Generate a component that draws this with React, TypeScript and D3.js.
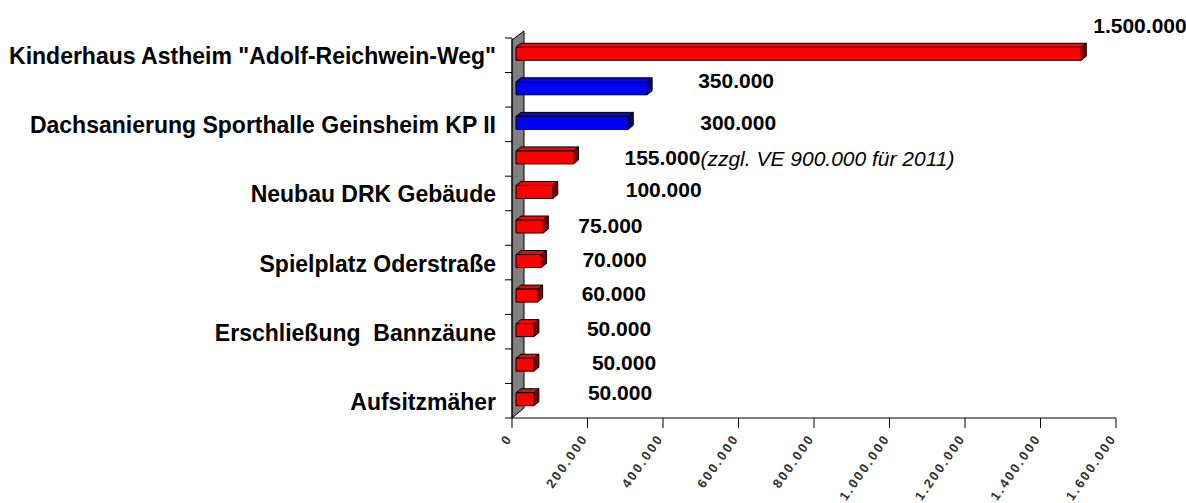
import React from "react";
import * as d3 from "d3";

const categories = [
  'Kinderhaus Astheim "Adolf-Reichwein-Weg"',
  "",
  "Dachsanierung Sporthalle Geinsheim KP II",
  "",
  "Neubau DRK Gebäude",
  "",
  "Spielplatz Oderstraße",
  "",
  "Erschließung  Bannzäune",
  "",
  "Aufsitzmäher",
];
const values = [1500000, 350000, 300000, 155000, 100000, 75000, 70000, 60000, 50000, 50000, 50000];
const barGroup = ["r", "b", "b", "r", "r", "r", "r", "r", "r", "r", "r"];
const valueNotes = ["", "", "", "(zzgl. VE 900.000 für 2011)", "", "", "", "", "", "", ""];
const xTicks = [0, 200000, 400000, 600000, 800000, 1000000, 1200000, 1400000, 1600000];

// manual label placement nudges (layout only)
const labelDx = [15, 54, 75, 54, 76, 38, 44, 47, 56, 61, 57];
const labelDy = [-30, -9, -2, -1, -4, -3, -3, -4, -3, -4, -8];

const W = 1186;
const H = 503;
const FONT = "'Liberation Sans', Arial, sans-serif";

const de = d3.formatLocale({ decimal: ",", thousands: ".", grouping: [3], currency: ["", "€"] });
const fmt = de.format(",d");

const colors: Record<string, { front: string; side: string }> = {
  r: { front: "#ff0000", side: "#800000" },
  b: { front: "#0000ff", side: "#000080" },
};

export default function App() {
  const x = d3.scaleLinear().domain([0, 1600000]).range([512, 1116]);
  const y = d3
    .scaleBand<number>()
    .domain(values.map((_, i) => i))
    .range([38, 418])
    .paddingInner(0);
  const bw = y.bandwidth();
  const dx = 5;
  const dy = -4;
  const x0 = x(0);
  const axisY = 418;

  const bandEdges = d3.range(values.length + 1).map((i) => 38 + i * bw);

  return (
    <svg
      width={W}
      height={H}
      style={{ position: "absolute", left: 0, top: 0, background: "#fff" }}
      fontFamily={FONT}
    >
      {/* back wall */}
      <polygon
        points={`${x0},${axisY} ${x0},${40} ${x0 + 12},${31} ${x0 + 12},${axisY - 10}`}
        fill="#808080"
        stroke="#000"
        strokeWidth={1}
      />
      {/* category axis ticks */}
      {bandEdges.map((e, i) => (
        <line key={i} x1={x0 - 7} x2={x0} y1={e} y2={e} stroke="#000" strokeWidth={1} />
      ))}
      <line x1={x0} x2={x0} y1={38} y2={axisY} stroke="#000" strokeWidth={1} />

      {/* bars */}
      {values.map((v, i) => {
        const c = (y(i) as number) + bw / 2;
        const bx0 = x0 + 4;
        const bx1 = x(v) + 3;
        const by0 = c - 8;
        const by1 = c + 5;
        const col = colors[barGroup[i]];
        return (
          <g key={i} stroke="#000" strokeWidth={1} strokeLinejoin="round">
            <polygon
              points={`${bx0},${by0} ${bx0 + dx},${by0 + dy} ${bx1 + dx},${by0 + dy} ${bx1},${by0}`}
              fill={col.front}
            />
            <polygon
              points={`${bx1},${by0} ${bx1 + dx},${by0 + dy} ${bx1 + dx},${by1 + dy} ${bx1},${by1}`}
              fill={col.side}
            />
            <rect x={bx0} y={by0} width={bx1 - bx0} height={by1 - by0} fill={col.front} />
          </g>
        );
      })}

      {/* x axis */}
      <line x1={x0} x2={x(1600000)} y1={axisY} y2={axisY} stroke="#000" strokeWidth={1} />
      {xTicks.map((t) => (
        <g key={t}>
          <line x1={x(t)} x2={x(t)} y1={axisY} y2={axisY + 10} stroke="#000" strokeWidth={1} />
          <text
            transform={`translate(${x(t) + 1},${axisY + 20}) rotate(-55)`}
            textAnchor="end"
            fontSize={13}
            fontWeight="bold"
            letterSpacing={2.2}
            fill="#333"
          >
            {fmt(t)}
          </text>
        </g>
      ))}

      {/* category labels */}
      {categories.map((cat, i) =>
        cat ? (
          <text
            key={i}
            x={496}
            y={(y(i) as number) + bw / 2 + 1}
            dominantBaseline="central"
            textAnchor="end"
            fontSize={23}
            fontWeight="bold"
            fill="#000"
            style={{ whiteSpace: "pre" }}
          >
            {cat}
          </text>
        ) : null
      )}

      {/* value labels */}
      {values.map((v, i) => {
        const c = (y(i) as number) + bw / 2;
        return (
          <text
            key={i}
            x={x(v) + labelDx[i]}
            y={c + labelDy[i]}
            dominantBaseline="central"
            fontSize={21}
            fontWeight="bold"
            fill="#000"
          >
            {fmt(v)}
            {valueNotes[i] ? (
              <tspan fontWeight="normal" fontStyle="italic">
                {valueNotes[i]}
              </tspan>
            ) : null}
          </text>
        );
      })}
    </svg>
  );
}
